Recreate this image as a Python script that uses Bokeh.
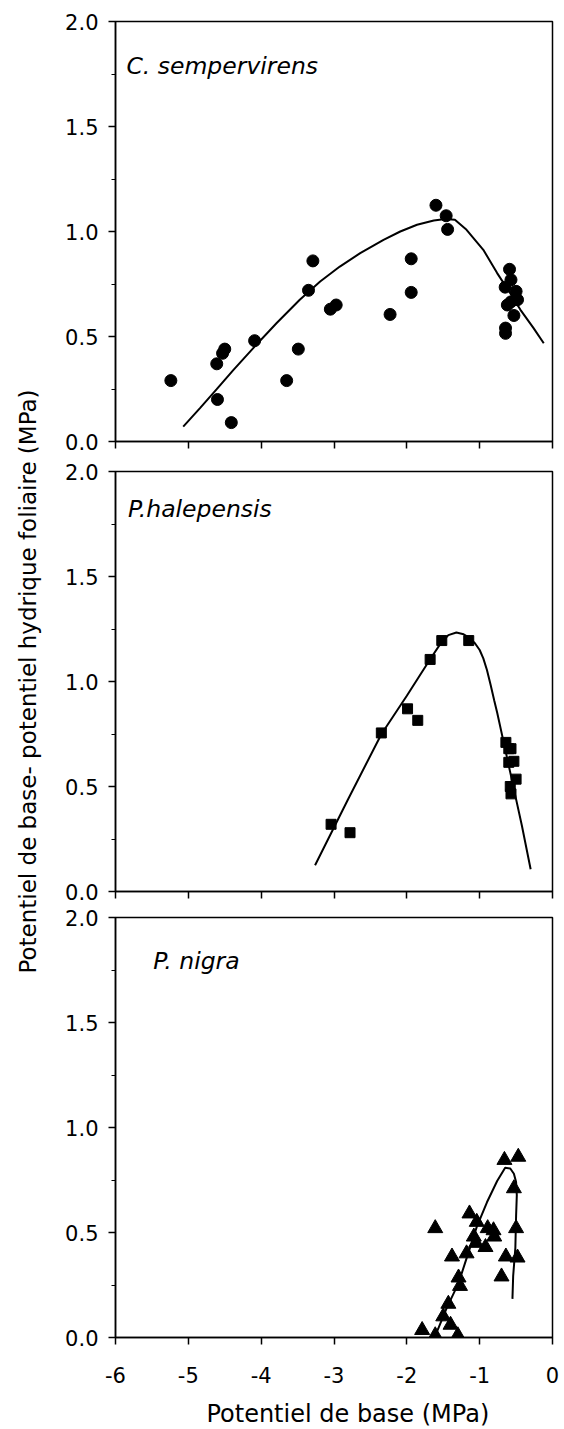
import math
from bokeh.plotting import figure
from bokeh.layouts import row, column
from bokeh.models import Range1d, FixedTicker, NumeralTickFormatter, Label
from bokeh.embed import file_html
from bokeh.resources import INLINE

# ---------------- data ----------------
x_ticks = [-6, -5, -4, -3, -2, -1, 0]
x_tick_labels = ["-6", "-5", "-4", "-3", "-2", "-1", "0"]
y_ticks = [0.0, 0.5, 1.0, 1.5, 2.0]
y_minor = [0.25, 0.75, 1.25, 1.75]

species = ["C. sempervirens", "P.halepensis", "P. nigra"]
x_title = "Potentiel de base (MPa)"
y_title = "Potentiel de base- potentiel hydrique foliaire (MPa)"

# C. sempervirens (circles)
cs_x = [-5.24, -4.61, -4.53, -4.50, -4.60, -4.41, -4.09, -3.65, -3.49, -3.35,
        -3.29, -3.05, -2.97, -2.23, -1.94, -1.94, -1.60, -1.46, -1.44, -0.59,
        -0.57, -0.65, -0.50, -0.48, -0.62, -0.57, -0.53, -0.645, -0.645]
cs_y = [0.29, 0.37, 0.42, 0.44, 0.20, 0.09, 0.48, 0.29, 0.44, 0.72,
        0.86, 0.63, 0.65, 0.605, 0.87, 0.71, 1.125, 1.075, 1.01, 0.82,
        0.77, 0.735, 0.715, 0.675, 0.65, 0.665, 0.60, 0.54, 0.515]
cs_fit_x = [-5.07, -4.84, -4.61, -4.38, -4.09, -3.79, -3.47, -3.19, -2.92, -2.64,
            -2.32, -2.09, -1.86, -1.63, -1.47, -1.34, -1.18, -0.95, -0.76, -0.58,
            -0.44, -0.26, -0.12]
cs_fit_y = [0.071, 0.159, 0.249, 0.341, 0.452, 0.563, 0.675, 0.762, 0.833, 0.897,
            0.960, 1.000, 1.032, 1.052, 1.060, 1.056, 1.008, 0.913, 0.802, 0.706,
            0.627, 0.540, 0.468]

# P. halepensis (squares)
ph_x = [-3.04, -2.78, -2.35, -1.99, -1.85, -1.68, -1.52, -1.15, -0.64, -0.60,
        -0.57, -0.60, -0.53, -0.50, -0.58, -0.57]
ph_y = [0.32, 0.28, 0.755, 0.87, 0.815, 1.105, 1.195, 1.195, 0.71, 0.68,
        0.68, 0.615, 0.62, 0.535, 0.50, 0.465]
ph_fit_x = [-3.26, -2.81, -2.35, -2.00, -1.68, -1.54, -1.43, -1.32, -1.22, -1.13,
            -1.06, -1.00, -0.95, -0.90, -0.85, -0.80, -0.76, -0.65, -0.54, -0.42,
            -0.30]
ph_fit_y = [0.125, 0.437, 0.749, 0.932, 1.106, 1.179, 1.221, 1.233, 1.225, 1.205,
            1.180, 1.150, 1.110, 1.055, 0.985, 0.910, 0.852, 0.678, 0.503, 0.313,
            0.106]

# P. nigra (triangles)
pn_x = [-0.66, -0.47, -0.53, -1.14, -1.04, -1.61, -0.89, -0.81, -0.50, -1.08,
        -0.80, -0.92, -1.05, -1.18, -1.38, -0.64, -0.48, -0.70, -1.29, -1.27,
        -1.43, -1.50, -1.40, -1.79, -1.61, -1.30]
pn_y = [0.845, 0.86, 0.71, 0.59, 0.55, 0.52, 0.52, 0.51, 0.52, 0.48,
        0.48, 0.43, 0.45, 0.40, 0.385, 0.385, 0.38, 0.29, 0.285, 0.245,
        0.16, 0.10, 0.06, 0.035, 0.01, 0.01]
pn_fit_x = [-1.61, -1.45, -1.29, -1.18, -1.04, -0.90, -0.76, -0.65, -0.58, -0.53,
            -0.50, -0.49, -0.50, -0.51, -0.54, -0.55]
pn_fit_y = [0.008, 0.142, 0.259, 0.377, 0.527, 0.644, 0.745, 0.808, 0.805, 0.780,
            0.740, 0.678, 0.577, 0.427, 0.293, 0.184]

FONT = "DejaVu Sans"


def make_panel(top, bottom, show_x_labels):
    p = figure(frame_width=437, frame_height=420,
               min_border_left=71, min_border_right=12,
               min_border_top=top, min_border_bottom=bottom,
               x_range=Range1d(-6, 0), y_range=Range1d(0, 2),
               output_backend="svg", toolbar_location=None)
    p.grid.visible = False
    p.background_fill_color = "white"
    p.border_fill_color = "white"
    p.outline_line_color = "black"
    p.outline_line_width = 1.5
    p.outline_line_alpha = 1.0

    xa = p.xaxis[0]
    xa.ticker = FixedTicker(ticks=x_ticks)
    xa.major_label_overrides = dict(zip(x_ticks, x_tick_labels))
    xa.axis_line_width = 1.5
    xa.major_tick_line_width = 1.5
    xa.major_tick_out = 7
    xa.major_tick_in = 0
    xa.minor_tick_line_color = None
    if show_x_labels:
        xa.major_label_text_font = FONT
        xa.major_label_text_font_size = "21px"
        xa.major_label_text_color = "black"
        xa.major_label_standoff = 22
    else:
        xa.major_label_text_color = None
        xa.major_label_text_font_size = "1px"
        xa.major_label_standoff = 0

    ya = p.yaxis[0]
    ya.ticker = FixedTicker(ticks=y_ticks, minor_ticks=y_minor)
    ya.formatter = NumeralTickFormatter(format="0.0")
    ya.axis_line_width = 1.5
    ya.major_tick_line_width = 1.5
    ya.major_tick_out = 7
    ya.major_tick_in = 0
    ya.minor_tick_out = 4
    ya.minor_tick_in = 0
    ya.minor_tick_line_width = 1
    ya.major_label_text_font = FONT
    ya.major_label_text_font_size = "21px"
    ya.major_label_text_color = "black"
    ya.major_label_standoff = 10
    return p


def species_label(p, x, y, text):
    p.add_layout(Label(x=x, y=y, text=text, text_align="left",
                       text_baseline="alphabetic", text_font=FONT,
                       text_font_style="italic", text_font_size="23.5px",
                       text_color="black"))


def blank(p):
    p.axis.visible = False
    p.grid.visible = False
    p.outline_line_color = None
    p.background_fill_color = "white"
    p.border_fill_color = "white"


# Panel 1
p1 = make_panel(21, 15, False)
p1.line(cs_fit_x, cs_fit_y, line_color="black", line_width=2)
p1.scatter(cs_x, cs_y, marker="circle", size=12, fill_color="black", line_color="black")
species_label(p1, -5.85, 1.79, species[0])

# Panel 2
p2 = make_panel(15, 13, False)
p2.line(ph_fit_x, ph_fit_y, line_color="black", line_width=2)
p2.scatter(ph_x, ph_y, marker="square", size=10, fill_color="black", line_color="black")
species_label(p2, -5.83, 1.82, species[1])

# Panel 3
p3 = make_panel(13, 55, True)
p3.line(pn_fit_x, pn_fit_y, line_color="black", line_width=2)
p3.scatter(pn_x, pn_y, marker="triangle", size=15, fill_color="black", line_color="black")
species_label(p3, -5.48, 1.795, species[2])

# X title strip (same horizontal scale as the panels)
px = figure(frame_width=437, frame_height=35, min_border_left=71, min_border_right=12,
            min_border_top=0, min_border_bottom=0,
            x_range=Range1d(-6, 0), y_range=Range1d(0, 35),
            output_backend="svg", toolbar_location=None)
blank(px)
px.add_layout(Label(x=-2.81, y=14, text=x_title, text_align="center",
                    text_baseline="alphabetic", text_font=FONT,
                    text_font_size="24px", text_color="black"))

# Y title strip
H = 456 + 448 + 488 + 35
pt = figure(width=44, height=H, x_range=Range1d(0, 44), y_range=Range1d(0, H),
            min_border=0, output_backend="svg", toolbar_location=None)
blank(pt)
pt.add_layout(Label(x=27, y=H - 681, text=y_title, angle=math.pi / 2,
                    text_align="center", text_baseline="middle",
                    text_font=FONT, text_font_size="23px", text_color="black"))

layout = row(pt, column(p1, p2, p3, px))

with open("out.html", "w") as f:
    f.write(file_html(layout, INLINE))
